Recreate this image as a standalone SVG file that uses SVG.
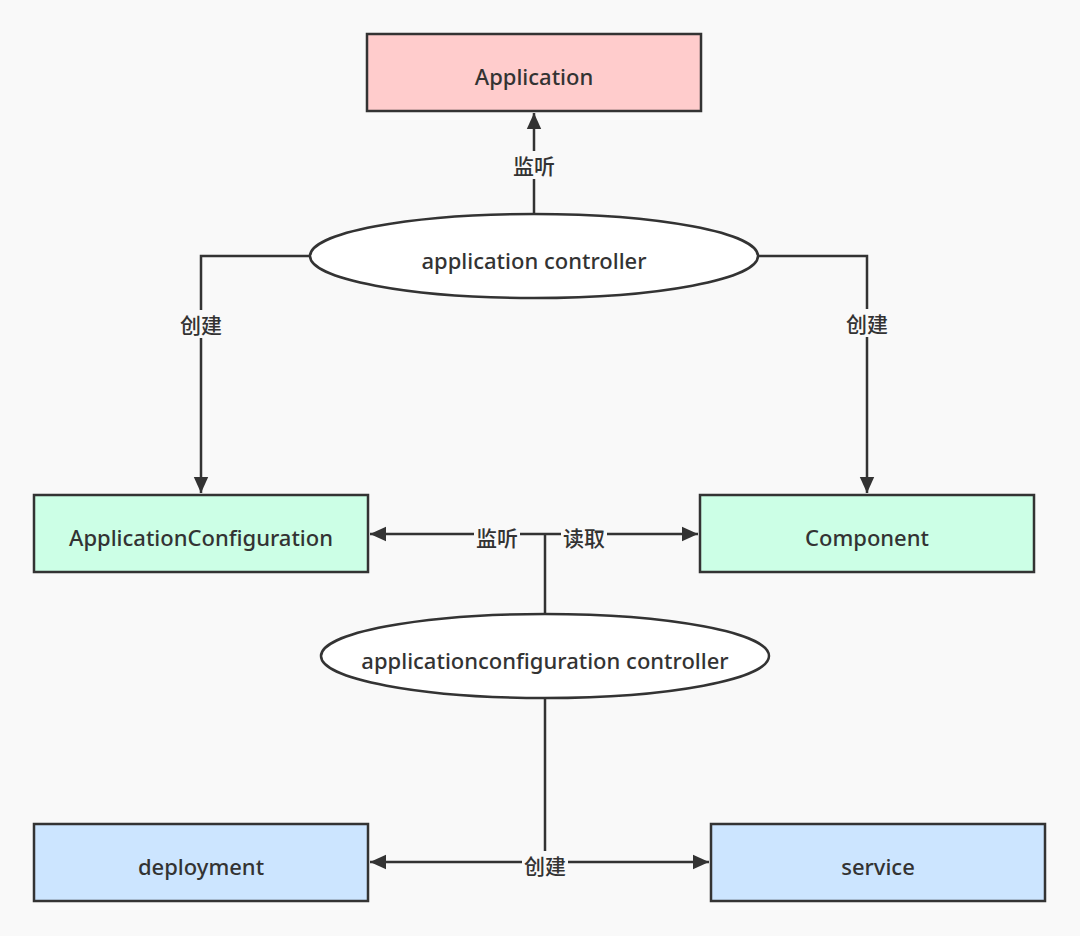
<svg xmlns="http://www.w3.org/2000/svg" width="1080" height="936" viewBox="0 0 1080 936">
<defs>
<style>
.box{stroke:#333;stroke-width:2.5}
.ell{fill:#fff;stroke:#333;stroke-width:2.5}
.t{font-family:"Noto Sans","Liberation Sans","Noto Sans CJK SC",sans-serif;font-size:22px;font-weight:500;fill:#333;text-anchor:middle;dominant-baseline:central}
.lbl{font-family:"Noto Sans CJK SC","Noto Sans",sans-serif;font-size:21px;font-weight:500;fill:#333;text-anchor:middle;dominant-baseline:central}
.ln{fill:none;stroke:#333;stroke-width:2.5}
.bg{fill:#f9f9f9}
</style>
<marker id="a2" viewBox="0 0 10 10" refX="10" refY="5" markerWidth="18" markerHeight="16" markerUnits="userSpaceOnUse" orient="auto">
<path d="M0,0.5 L10,5 L0,9.5 z" fill="#333"/>
</marker>
</defs>
<rect width="1080" height="936" fill="#f9f9f9"/>
<g id="connectors">
<line class="ln" x1="534" y1="213" x2="534" y2="113" marker-end="url(#a2)"/>
<rect class="bg" x="510" y="151" width="48" height="28"/>
<text class="lbl" x="534" y="165">监听</text>
<polyline class="ln" points="310,256 201,256 201,493" marker-end="url(#a2)"/>
<rect class="bg" x="177" y="310" width="48" height="28"/>
<text class="lbl" x="201" y="324">创建</text>
<polyline class="ln" points="758,256 867,256 867,493" marker-end="url(#a2)"/>
<rect class="bg" x="843" y="309" width="48" height="28"/>
<text class="lbl" x="867" y="323">创建</text>
<line class="ln" x1="545" y1="614" x2="545" y2="534"/>
<line class="ln" x1="545" y1="534" x2="370" y2="534" marker-end="url(#a2)"/>
<line class="ln" x1="545" y1="534" x2="698" y2="534" marker-end="url(#a2)"/>
<rect class="bg" x="474" y="523" width="46" height="28"/>
<text class="lbl" x="497" y="537">监听</text>
<rect class="bg" x="561" y="523" width="46" height="28"/>
<text class="lbl" x="584" y="537">读取</text>
<line class="ln" x1="545" y1="698" x2="545" y2="862"/>
<line class="ln" x1="545" y1="862" x2="370" y2="862" marker-end="url(#a2)"/>
<line class="ln" x1="545" y1="862" x2="709" y2="862" marker-end="url(#a2)"/>
<rect class="bg" x="522" y="851" width="46" height="28"/>
<text class="lbl" x="545" y="865">创建</text>
</g>
<g id="application">
<rect class="box" x="367" y="34" width="334" height="77" fill="#ffcccc"/>
<text class="t" x="534" y="76">Application</text>
</g>
<g id="application-controller">
<ellipse class="ell" cx="534" cy="256" rx="224" ry="42"/>
<text class="t" x="534" y="260">application controller</text>
</g>
<g id="applicationconfiguration">
<rect class="box" x="34" y="495" width="334" height="77" fill="#ccffe6"/>
<text class="t" x="201" y="537">ApplicationConfiguration</text>
</g>
<g id="component">
<rect class="box" x="700" y="495" width="334" height="77" fill="#ccffe6"/>
<text class="t" x="867" y="537">Component</text>
</g>
<g id="applicationconfiguration-controller">
<ellipse class="ell" cx="545" cy="656" rx="224" ry="42"/>
<text class="t" x="545" y="660">applicationconfiguration controller</text>
</g>
<g id="deployment">
<rect class="box" x="34" y="824" width="334" height="77" fill="#cce5ff"/>
<text class="t" x="201" y="866">deployment</text>
</g>
<g id="service">
<rect class="box" x="711" y="824" width="334" height="77" fill="#cce5ff"/>
<text class="t" x="878" y="866">service</text>
</g>
</svg>
